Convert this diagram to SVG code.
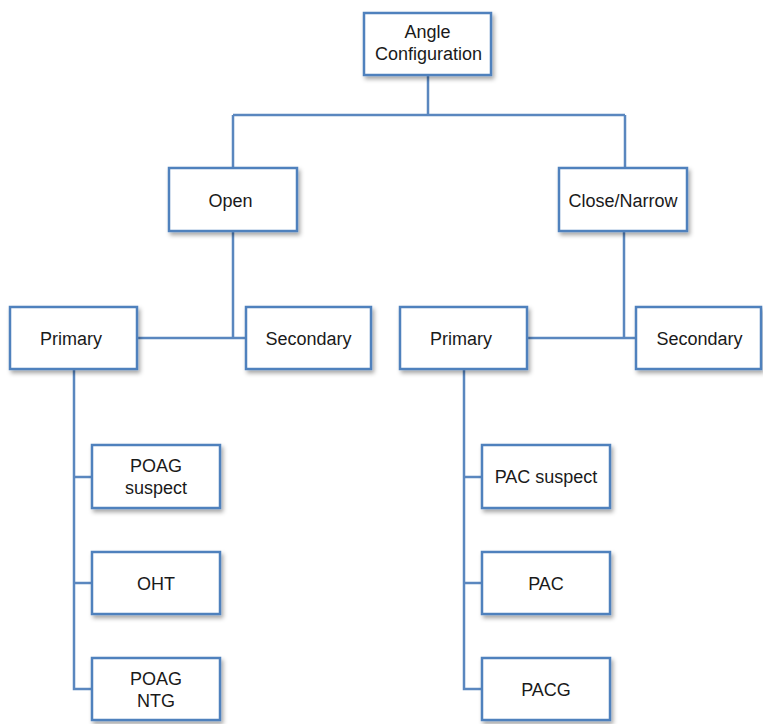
<svg xmlns="http://www.w3.org/2000/svg" width="763" height="724" viewBox="0 0 763 724">
<defs>
<filter id="sh" x="-10%" y="-10%" width="130%" height="140%">
<feDropShadow dx="2" dy="3" stdDeviation="2" flood-color="#000" flood-opacity="0.35"/>
</filter>
<style>
.box{fill:#fff;stroke:#4f81bd;stroke-width:2.5;filter:url(#sh)}
.ln{fill:none;stroke:#5a87bf;stroke-width:2.5}
text{font-family:"Liberation Sans",Arial,sans-serif;font-size:18px;fill:#1a1a1a;text-anchor:middle}
</style>
</defs>
<rect width="763" height="724" fill="#fff"/>
<g id="connectors">
<path class="ln" d="M428 76V115M233 115H625M233 115V168M625 115V168"/>
<path class="ln" d="M233 231V338M137 338H246"/>
<path class="ln" d="M624 231V338M527 338H636"/>
<path class="ln" d="M74 369V689H92M74 477H92M74 583H92"/>
<path class="ln" d="M464 369V689H482M464 477H482M464 583H482"/>
</g>
<g id="angle"><rect class="box" x="364" y="13" width="127" height="62"/><text x="427.5" y="38">Angle</text><text x="428.5" y="60">Configuration</text></g>
<g id="open"><rect class="box" x="169" y="168" width="128" height="63"/><text x="230.5" y="206.5">Open</text></g>
<g id="close"><rect class="box" x="559" y="168" width="128" height="63"/><text x="623" y="206.5">Close/Narrow</text></g>
<g id="primary-open"><rect class="box" x="10" y="307" width="127" height="62"/><text x="71" y="344.5">Primary</text></g>
<g id="secondary-open"><rect class="box" x="246" y="307" width="125" height="62"/><text x="308.5" y="344.5">Secondary</text></g>
<g id="primary-close"><rect class="box" x="400" y="307" width="127" height="62"/><text x="461" y="344.5">Primary</text></g>
<g id="secondary-close"><rect class="box" x="636" y="307" width="125" height="62"/><text x="699.5" y="344.5">Secondary</text></g>
<g id="poag-suspect"><rect class="box" x="92" y="445" width="128" height="63"/><text x="156" y="472">POAG</text><text x="156" y="494">suspect</text></g>
<g id="oht"><rect class="box" x="92" y="552" width="128" height="62"/><text x="156" y="589.5">OHT</text></g>
<g id="poag-ntg"><rect class="box" x="92" y="658" width="128" height="62"/><text x="156" y="685">POAG</text><text x="156" y="707">NTG</text></g>
<g id="pac-suspect"><rect class="box" x="482" y="445" width="128" height="63"/><text x="546" y="483">PAC suspect</text></g>
<g id="pac"><rect class="box" x="482" y="552" width="128" height="62"/><text x="546" y="589.5">PAC</text></g>
<g id="pacg"><rect class="box" x="482" y="658" width="128" height="62"/><text x="546" y="695.5">PACG</text></g>
</svg>
